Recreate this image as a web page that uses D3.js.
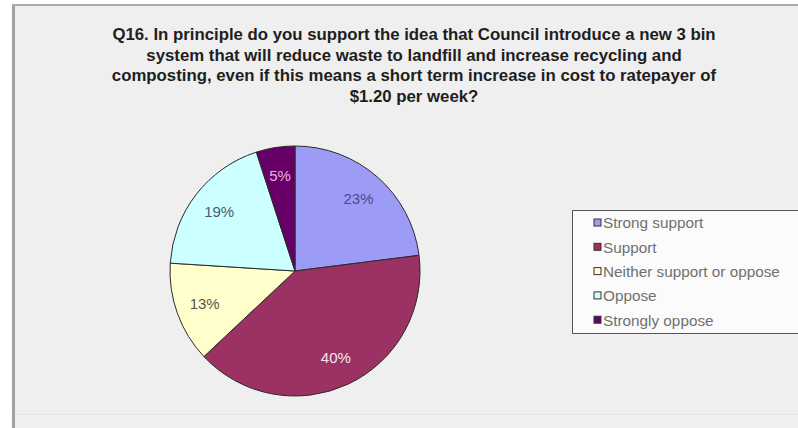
<!DOCTYPE html>
<html>
<head>
<meta charset="utf-8">
<script src="https://cdn.jsdelivr.net/npm/d3@7"></script>
<style>
  body { margin: 0; background: #ffffff; }
  svg { display: block; }
</style>
</head>
<body>
<div id="chart"></div>
<script>
// Chart data
const categories = ["Strong support", "Support", "Neither support or oppose", "Oppose", "Strongly oppose"];
const values = [23, 40, 13, 19, 5];
const colors = ["#9c9cf6", "#9b3263", "#ffffcc", "#ccffff", "#660066"];
const labelColors = ["#4b4b8c", "#f4e6ee", "#555555", "#46606e", "#f2aee2"];
const titleLines = [
  "Q16. In principle do you support the idea that Council introduce a new 3 bin",
  "system that will reduce waste to landfill and increase recycling and",
  "composting, even if this means a short term increase in cost to ratepayer of",
  "$1.20 per week?"
];

const width = 798;
const height = 428;

const svg = d3.select("#chart").append("svg")
    .attr("width", width)
    .attr("height", height)
    .attr("viewBox", [0, 0, width, height]);

// Chart area background and frame
svg.append("rect")
    .attr("x", 12).attr("y", 4)
    .attr("width", width - 12).attr("height", height - 4)
    .attr("fill", "#efefef");
svg.append("line")
    .attr("x1", 13.5).attr("x2", 13.5).attr("y1", 4).attr("y2", height)
    .attr("stroke", "#a2a2a2").attr("stroke-width", 3);
svg.append("line")
    .attr("x1", 12).attr("x2", width).attr("y1", 5).attr("y2", 5)
    .attr("stroke", "#aaaaaa").attr("stroke-width", 2);
svg.append("line")
    .attr("x1", 15).attr("x2", width).attr("y1", 414.5).attr("y2", 414.5)
    .attr("stroke", "#e3e3e3").attr("stroke-width", 1);

// Title
svg.append("g")
    .attr("font-family", "Liberation Sans, Arial, sans-serif")
    .attr("font-weight", "bold")
    .attr("font-size", 16.8)
    .attr("fill", "#1e1e1e")
    .attr("text-anchor", "middle")
  .selectAll("text")
  .data(titleLines)
  .join("text")
    .attr("x", 414)
    .attr("y", (d, i) => 40 + i * 20.5)
    .text(d => d);

// Pie
const cx = 295, cy = 271, radius = 125;
const pie = d3.pie().sort(null).value(d => d.value);
const arcs = pie(values.map((v, i) => ({value: v, i})));
const arc = d3.arc().innerRadius(0).outerRadius(radius);
const labelArc = d3.arc().innerRadius(96).outerRadius(96);

const g = svg.append("g").attr("transform", `translate(${cx},${cy})`);

g.selectAll("path")
  .data(arcs)
  .join("path")
    .attr("d", arc)
    .attr("fill", d => colors[d.data.i])
    .attr("stroke", "#2a2a2a")
    .attr("stroke-width", 1);

g.selectAll("text")
  .data(arcs)
  .join("text")
    .attr("transform", d => `translate(${labelArc.centroid(d)})`)
    .attr("text-anchor", "middle")
    .attr("dy", "0.35em")
    .attr("font-family", "Liberation Sans, Arial, sans-serif")
    .attr("font-size", 15)
    .attr("fill", d => labelColors[d.data.i])
    .text(d => d.data.value + "%");

// Legend
const legend = svg.append("g").attr("transform", "translate(572,210)");
legend.append("rect")
    .attr("x", 0.5).attr("y", 0.5)
    .attr("width", 240).attr("height", 123)
    .attr("fill", "#fbfbfb")
    .attr("stroke", "#555555");

const item = legend.selectAll("g.item")
  .data(categories)
  .join("g")
    .attr("class", "item")
    .attr("transform", (d, i) => `translate(22,${13 + i * 24.3})`);

item.append("rect")
    .attr("x", 0).attr("y", -4)
    .attr("width", 7).attr("height", 7)
    .attr("fill", (d, i) => colors[i])
    .attr("stroke", "#333333")
    .attr("stroke-width", 1);

item.append("text")
    .attr("x", 9)
    .attr("dy", "0.35em")
    .attr("font-family", "Liberation Sans, Arial, sans-serif")
    .attr("font-size", 15.3)
    .attr("fill", "#707070")
    .text(d => d);
</script>
</body>
</html>
